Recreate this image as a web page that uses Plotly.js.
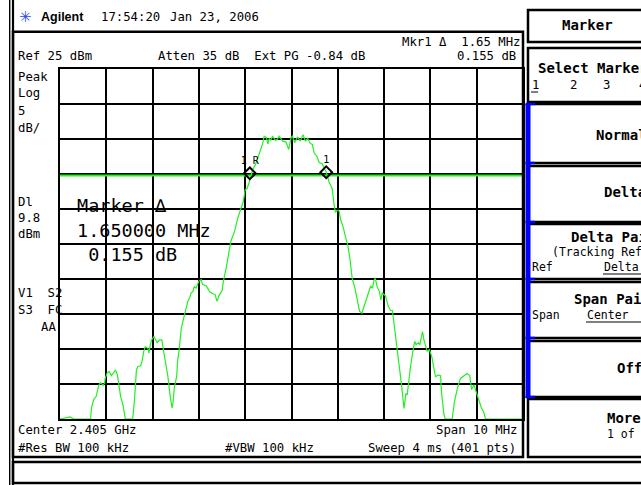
<!DOCTYPE html>
<html><head><meta charset="utf-8">
<script src="https://cdn.plot.ly/plotly-3.0.1.min.js"></script>
<style>html,body{margin:0;padding:0;background:#fff;overflow:hidden}#chart{width:641px;height:485px}</style>
</head><body><div id="chart"></div>
<script>
// ---- data ----
const freqMHz = [2400.00,2400.22,2400.30,2400.66,2400.68,2400.73,2400.78,2400.84,2400.88,2400.93,2400.96,2400.98,2401.02,2401.06,2401.11,2401.16,2401.20,2401.24,2401.27,2401.31,2401.36,2401.39,2401.41,2401.57,2401.61,2401.65,2401.68,2401.74,2401.77,2401.81,2401.84,2401.90,2401.92,2401.95,2401.98,2402.03,2402.06,2402.10,2402.15,2402.20,2402.22,2402.26,2402.33,2402.38,2402.42,2402.44,2402.47,2402.52,2402.54,2402.58,2402.62,2402.65,2402.72,2402.76,2402.80,2402.83,2402.87,2402.90,2402.94,2403.00,2403.05,2403.08,2403.16,2403.23,2403.30,2403.35,2403.39,2403.44,2403.50,2403.53,2403.59,2403.64,2403.69,2403.77,2403.84,2403.91,2403.96,2404.00,2404.04,2404.09,2404.13,2404.16,2404.22,2404.27,2404.30,2404.34,2404.38,2404.41,2404.46,2404.49,2404.52,2404.55,2404.59,2404.65,2404.70,2404.73,2404.77,2404.81,2404.88,2404.94,2404.99,2405.02,2405.07,2405.13,2405.19,2405.25,2405.30,2405.35,2405.40,2405.45,2405.49,2405.55,2405.60,2405.66,2405.70,2405.75,2405.81,2405.88,2405.92,2405.95,2405.98,2406.03,2406.06,2406.12,2406.17,2406.22,2406.27,2406.31,2406.37,2406.42,2406.47,2406.52,2406.57,2406.62,2406.67,2406.71,2406.75,2406.78,2406.81,2406.85,2406.90,2406.93,2406.96,2407.03,2407.09,2407.14,2407.18,2407.21,2407.28,2407.34,2407.38,2407.43,2407.47,2407.50,2407.54,2407.57,2407.61,2407.66,2407.69,2407.74,2407.77,2407.79,2407.83,2407.86,2407.90,2407.93,2407.98,2408.03,2408.06,2408.11,2408.16,2408.22,2408.24,2408.29,2408.32,2408.47,2408.52,2408.58,2408.65,2408.72,2408.79,2408.85,2408.89,2408.94,2408.98,2409.05,2409.10,2409.15,2409.19,2410.00];
const levelDbm = [-25.0,-24.7,-25.0,-25.0,-23.4,-22.2,-21.8,-20.1,-19.8,-20.2,-19.9,-19.1,-18.4,-18.2,-18.8,-18.4,-18.0,-18.7,-20.1,-21.8,-23.0,-24.1,-25.0,-25.0,-22.2,-18.0,-17.5,-17.4,-16.8,-15.3,-14.7,-14.9,-15.6,-14.4,-13.7,-13.2,-13.7,-14.1,-13.7,-13.7,-14.6,-16.1,-18.9,-21.8,-23.4,-22.7,-20.5,-18.9,-16.8,-14.7,-12.0,-11.2,-9.1,-8.2,-7.7,-7.0,-6.8,-6.1,-6.3,-5.3,-5.1,-5.8,-6.0,-6.8,-7.1,-7.2,-8.2,-7.3,-6.7,-5.3,-3.4,-1.5,0.4,1.8,3.7,5.1,6.1,7.8,7.9,8.9,10.1,10.6,11.3,12.3,12.8,13.7,14.4,15.4,15.2,14.3,15.1,14.8,15.4,14.8,15.0,15.4,15.1,14.7,14.6,13.5,15.2,15.4,14.5,15.3,14.7,15.6,14.7,15.1,14.4,14.2,13.0,12.5,11.6,11.5,10.9,10.3,8.9,7.9,5.6,4.5,4.8,4.7,3.5,2.3,0.9,-0.3,-2.5,-4.9,-6.3,-8.2,-9.6,-9.9,-8.9,-7.7,-6.8,-6.0,-6.3,-5.2,-4.9,-6.1,-6.8,-8.0,-7.0,-7.4,-8.9,-9.5,-9.5,-11.1,-14.6,-17.5,-20.3,-23.5,-21.4,-21.5,-18.7,-17.5,-15.8,-13.9,-14.4,-14.1,-14.4,-13.7,-12.5,-13.7,-14.5,-15.3,-15.1,-16.1,-17.2,-19.0,-18.7,-18.8,-21.2,-24.2,-25.0,-25.0,-22.5,-20.7,-19.2,-18.8,-18.5,-18.8,-20.8,-20.1,-20.9,-22.2,-23.4,-24.0,-25.0,-25.0];
const refLevelDbm = 25, dbPerDiv = 5, centerMHz = 2405, spanMHz = 10;
const displayLineDbm = 9.8;
const mkrFreqMHz = [2404.10, 2405.75];
const mkrLevelDbm = [10.10, 10.25];
const mkrLabels = ['1 R', '1'];

// ---- layout helpers (pixel -> paper) ----
const L = 60, R = 523, T = 69, B = 419, W = R - L, H = B - T;
const X = px => (px - L) / W, Y = py => (B - py) / H;
const MONO = 'DejaVu Sans Mono';
const GREEN = '#22f022';

function A(text, x, y, size, o) {
  return Object.assign({text: text, xref: 'paper', yref: 'paper', x: X(x), y: Y(y),
    xanchor: 'left', yanchor: 'middle', showarrow: false, borderpad: 0,
    font: {family: MONO, size: size, color: '#000'}}, o || {});
}
function rect(x0, y0, x1, y1, o) {
  return Object.assign({type: 'rect', xref: 'paper', yref: 'paper', x0: X(x0), x1: X(x1), y0: Y(y0), y1: Y(y1),
    line: {color: '#000', width: 2.5}, fillcolor: 'rgba(0,0,0,0)'}, o || {});
}
function seg(x0, y0, x1, y1, w, c) {
  return {type: 'line', xref: 'paper', yref: 'paper', x0: X(x0), x1: X(x1), y0: Y(y0), y1: Y(y1),
    line: {color: c || '#000', width: w}};
}

const shapes = [
  seg(9.7, 0, 9.7, 485, 1.4),
  seg(13, 0, 13, 485, 2.2),
  rect(13, 31.7, 523, 457),
  rect(13, 462, 670, 483),
];
[[10,42],[48,102],[104,163],[166,222],[224,279],[282,338],[341,397],[399,457]].forEach(function(b){
  shapes.push(rect(528, b[0], 670, b[1]));
});
shapes.push(rect(525.5, 104, 530.5, 398, {line: {width: 0}, fillcolor: '#0000ff'}));
[104, 163, 222, 279, 338, 397].forEach(function(y){
  shapes.push(rect(525.5, y - 1.2, 535, y + 1.2, {line: {width: 0}, fillcolor: '#0000ff'}));
});
shapes.push(seg(531, 92, 538, 92, 1));
shapes.push(seg(603, 274, 641, 274, 1));
shapes.push(seg(586, 322, 641, 322, 1));

const S = 12.3, SK = 11.5, SB = 14;
const annotations = [
  A('✳', 18, 17, 15, {font: {family: 'DejaVu Sans', size: 15, color: '#2a4cf0'}}),
  A('<b>Agilent</b>', 40, 17.5, 12.5, {font: {family: 'Liberation Sans', size: 12.5, color: '#000'}}),
  A('17:54:20', 100, 17.5, S),
  A('Jan 23, 2006', 169, 17.5, S),
  A('Mkr1 Δ  1.65 MHz', 521, 41.5, S, {xanchor: 'right'}),
  A('0.155 dB', 517, 56, S, {xanchor: 'right'}),
  A('Ref 25 dBm', 16.5, 56, S),
  A('Atten 35 dB  Ext PG -0.84 dB', 157, 56, S),
  A('Peak', 16.5, 77.5, S),
  A('Log', 16.5, 93.5, S),
  A('5', 16.5, 110.5, S),
  A('dB/', 16.5, 128, S),
  A('Dl', 16.5, 201.7, S),
  A('9.8', 16.5, 218, S),
  A('dBm', 16.5, 234, S),
  A('V1  S2', 16.5, 292.7, S),
  A('S3  FC', 16.5, 310, S),
  A('AA', 57, 327, S, {xanchor: 'right'}),
  A('Marker ∆', 76, 205, 18.5),
  A('1.650000 MHz', 76, 230.7, 18.5),
  A(' 0.155 dB', 76, 255, 18.5),
  A('Center 2.405 GHz', 16.5, 430, S),
  A('Span 10 MHz', 518, 430, S, {xanchor: 'right'}),
  A('#Res BW 100 kHz', 16.5, 448, S),
  A('#VBW 100 kHz', 224, 448, S),
  A('Sweep 4 ms (401 pts)', 517, 448, S, {xanchor: 'right'}),
  A('<b>Marker</b>', 561, 25, SB),
  A('<b>Select Marker</b>', 537, 68.3, SB),
  A('1', 531, 85, S), A('2', 569, 85, S), A('3', 602, 85, S), A('4', 638, 85, S),
  A('<b>Normal</b>', 595, 135, SB),
  A('<b>Delta</b>', 603, 191.7, SB),
  A('<b>Delta Pair</b>', 570, 237.3, SB),
  A('(Tracking Ref)', 551, 252.3, SK),
  A('Ref', 530.5, 266.7, SK), A('Delta', 603, 266.7, SK),
  A('<b>Span Pair</b>', 573, 299, SB),
  A('Span', 530.5, 315, SK), A('Center', 586, 315, SK),
  A('<b>Off</b>', 616, 368.3, SB),
  A('<b>More</b>', 606, 418, SB),
  A('1 of 2', 606, 434.3, SK),
];

const xr = [centerMHz - spanMHz / 2, centerMHz + spanMHz / 2];
const yr = [refLevelDbm - 10 * dbPerDiv, refLevelDbm];

const traces = [
  {x: xr, y: [displayLineDbm, displayLineDbm], mode: 'lines', line: {color: GREEN, width: 2}, hoverinfo: 'skip'},
  {x: freqMHz, y: levelDbm, mode: 'lines', line: {color: GREEN, width: 1.2}, hoverinfo: 'skip'},
  {x: mkrFreqMHz, y: mkrLevelDbm, mode: 'markers+text', text: mkrLabels, textposition: 'top center',
   textfont: {family: MONO, size: 10, color: '#000'},
   marker: {symbol: 'diamond-open', size: 9, color: '#000', line: {width: 2, color: '#000'}}, hoverinfo: 'skip'},
];

const axisCommon = {showticklabels: false, ticks: '', zeroline: false, showgrid: true, gridcolor: '#000', gridwidth: 2,
  showline: true, mirror: true, linecolor: '#000', linewidth: 2, layer: 'below traces', fixedrange: true};

const layout = {
  width: 641, height: 485,
  margin: {l: L, r: 641 - R, t: T, b: 485 - B, pad: 0},
  paper_bgcolor: '#fff', plot_bgcolor: '#fff',
  showlegend: false,
  xaxis: Object.assign({range: xr, tick0: xr[0], dtick: spanMHz / 10}, axisCommon),
  yaxis: Object.assign({range: yr, tick0: yr[0], dtick: dbPerDiv}, axisCommon),
  shapes: shapes,
  annotations: annotations,
};

Plotly.newPlot('chart', traces, layout, {staticPlot: true, displayModeBar: false});
</script>
</body></html>
